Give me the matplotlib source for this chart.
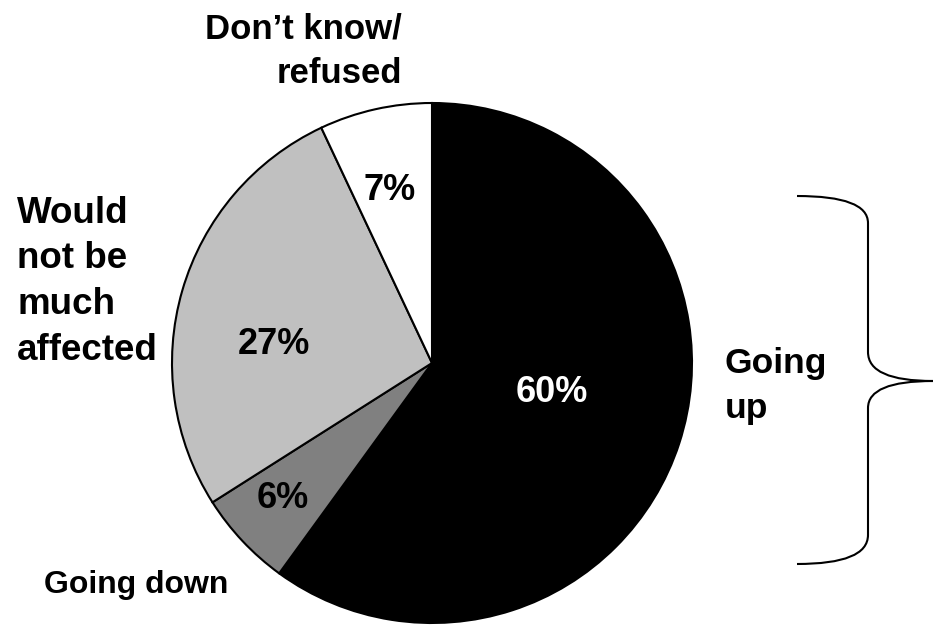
import matplotlib
matplotlib.use("Agg")
import matplotlib.pyplot as plt
from matplotlib.path import Path
from matplotlib.patches import PathPatch

# slices, clockwise from 12 o'clock
shares = [60, 6, 27, 7]
slice_colors = ["#000000", "#808080", "#c0c0c0", "#ffffff"]
pct_colors = ["white", "black", "black", "black"]
categories = ["Going\nup", "Going down", "Would\nnot be\nmuch\naffected", "Don\u2019t know/\nrefused"]

W, H = 933, 625

plt.rcParams["font.family"] = ["Liberation Sans", "DejaVu Sans"]
plt.rcParams["font.weight"] = "bold"

fig = plt.figure(figsize=(W / 100, H / 100), dpi=100)
ax = fig.add_axes([0, 0, 1, 1])

# work in pixel units, y measured from the bottom
cx, cy, r = 432, H - 363, 260
ax.pie(shares, colors=slice_colors, startangle=90, counterclock=False,
       center=(cx, cy), radius=r,
       wedgeprops=dict(edgecolor="black", linewidth=1.5))
ax.set_xlim(0, W)
ax.set_ylim(0, H)
ax.set_aspect("equal")
ax.axis("off")

# percentage labels
pct_pos = [(552, 392), (283, 498), (274, 344), (390, 190)]
for v, c, (x, y) in zip(shares, pct_colors, pct_pos):
    ax.text(x, H - y, f"{v}%", color=c, fontsize=26, fontweight="bold",
            ha="center", va="center")

# category labels (va=baseline -> last line sits on y)
lab = dict(fontweight="bold", color="black")
ax.text(725, H - 418, categories[0], ha="left", va="baseline", fontsize=25.5,
        linespacing=1.45, **lab)
ax.text(228, H - 593, categories[1], ha="right", va="baseline", fontsize=23, **lab)
ax.text(17, H - 360, categories[2], ha="left", va="baseline", fontsize=26.5,
        linespacing=1.4, **lab)
ax.text(402, H - 83, categories[3], ha="right", va="baseline",
        multialignment="right", fontsize=25, linespacing=1.45, **lab)

# curly brace next to "Going up"
bx, tip_x = 868, 933
pts = [(797, 196), (bx, 196), (bx, 223),
       (bx, 352), (bx, 381), (tip_x, 381),
       (bx, 381), (bx, 408),
       (bx, 535), (bx, 564), (797, 564)]
codes = [Path.MOVETO, Path.CURVE3, Path.CURVE3,
         Path.LINETO, Path.CURVE3, Path.CURVE3,
         Path.CURVE3, Path.CURVE3,
         Path.LINETO, Path.CURVE3, Path.CURVE3]
brace = Path([(x, H - y) for x, y in pts], codes)
ax.add_patch(PathPatch(brace, facecolor="none", edgecolor="black",
                       linewidth=1.5, clip_on=False))

fig.savefig("out.png", dpi=100)
